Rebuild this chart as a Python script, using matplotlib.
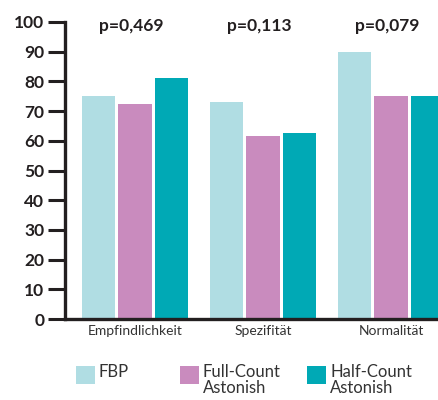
import matplotlib
matplotlib.use("Agg")
import matplotlib.pyplot as plt
from matplotlib.patches import Rectangle
import numpy as np

categories = ["Empfindlichkeit", "Spezifität", "Normalität"]
series_names = ["FBP", "Full-Count\nAstonish", "Half-Count\nAstonish"]
fbp = [75, 73, 90]
full_count = [72.5, 61.5, 75]
half_count = [81, 62.5, 75]
p_values = ["p=0,469", "p=0,113", "p=0,079"]
y_ticks = [0, 10, 20, 30, 40, 50, 60, 70, 80, 90, 100]

colors = ["#B0DDE3", "#C98BBE", "#00A9B5"]
axis_color = "#231F20"
text_color = "#333333"

plt.rcParams["font.family"] = ["Lato", "DejaVu Sans"]

fig = plt.figure(figsize=(4.38, 4.0), dpi=100)
ax = fig.add_axes([65 / 438, 81 / 400, 1 - 65 / 438, 297 / 400])

x = np.arange(len(categories))
offset = 0.285
width = 0.26
for i, vals in enumerate([fbp, full_count, half_count]):
    ax.bar(x + (i - 1) * offset, vals, width, color=colors[i], linewidth=0)

ax.set_xlim(-0.547, 2.367)
ax.set_ylim(0, 100)
ax.set_yticks(y_ticks)
ax.set_yticklabels([str(t) for t in y_ticks], fontweight="bold", fontsize=12.5,
                   color=axis_color)
ax.tick_params(axis="y", direction="out", length=12, width=2.2, color=axis_color, pad=3)
ax.set_xticks(x)
ax.set_xticklabels(categories, fontsize=10, color=text_color)
ax.tick_params(axis="x", length=0, pad=4)

for side in ["top", "right"]:
    ax.spines[side].set_visible(False)
for side in ["left", "bottom"]:
    ax.spines[side].set_linewidth(2.4)
    ax.spines[side].set_color(axis_color)

for xi, p in zip(x, p_values):
    ax.text(xi - 0.03, 98.5, p, ha="center", va="center", fontsize=12.5,
            fontweight="bold", color=axis_color)

# legend drawn by hand to match the uneven spacing
legend_x = [76, 180, 307]
for lx, name, c in zip(legend_x, series_names, colors):
    fig.patches.append(Rectangle((lx / 438, 1 - 384 / 400), 19 / 438, 18 / 400,
                                 transform=fig.transFigure, color=c, lw=0))
    fig.text((lx + 23) / 438, 1 - 364 / 400, name, ha="left", va="top",
             fontsize=12, color=text_color, linespacing=1.0)

fig.savefig("out.png", dpi=100)
